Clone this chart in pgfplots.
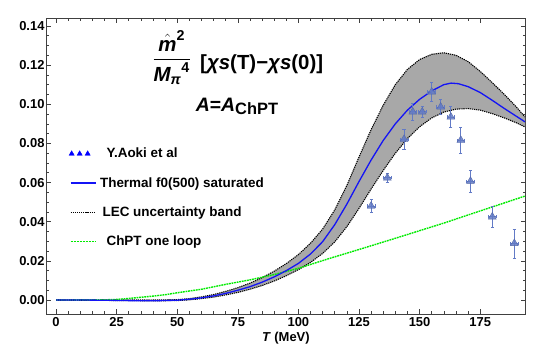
\documentclass[border=0pt]{standalone}
\usepackage{fontspec}
\setmainfont{Liberation Sans}
\usepackage{amsmath}
\usepackage{pgfplots}
\pgfplotsset{compat=1.18}
\usepgfplotslibrary{fillbetween}
\definecolor{datablue}{RGB}{98,122,198}
\definecolor{bandgray}{RGB}{168,168,168}
\definecolor{chptgreen}{RGB}{0,235,0}
\definecolor{curveblue}{RGB}{20,20,245}
\begin{document}
\begin{tikzpicture}
\begin{axis}[
  at={(0,0)}, anchor=south west,
  scale only axis, width=478.3bp, height=295.7bp,
  xmin=-3.85, xmax=193.5, ymin=-0.00714, ymax=0.1439,
  xtick={0,25,50,75,100,125,150,175}, minor x tick num=4,
  ytick={0,0.02,0.04,0.06,0.08,0.1,0.12,0.14}, minor y tick num=3,
  tick align=inside,
  major tick length=4.5bp, minor tick length=2.5bp,
  axis line style={black!75, line width=0.7bp},
  every tick/.style={black!75, line width=0.6bp},
  /pgf/number format/assume math mode=true,
  yticklabel style={/pgf/number format/fixed, /pgf/number format/fixed zerofill, /pgf/number format/precision=2},
  ticklabel style={font=\fontsize{13}{15}\selectfont\bfseries},
  xticklabel style={inner sep=1bp, yshift=-2bp},
  yticklabel style={inner sep=1bp, xshift=-1bp},
  scaled y ticks=false,
  xlabel={\textit{T} (MeV)},
  xlabel style={font=\fontsize{13}{15}\selectfont\bfseries, inner sep=0pt, yshift=-5bp},
  legend style={at={(axis cs:5.3,0.0787)}, anchor=north west, draw=none, fill=none,
    font=\fontsize{13.5}{15}\selectfont\bfseries, row sep=14bp, inner sep=0pt,
    cells={anchor=west}},
]
% band boundaries
\addplot[name path=upper, black, line width=1.1bp, dash pattern=on 1.2bp off 0.9bp, forget plot] coordinates {
(0,0)(40,0)(50,0.0002)(55,0.0007)(60,0.0016)(65,0.0028)(70,0.0044)(75,0.0063)(80,0.0086)(85,0.0114)(90,0.0147)(95,0.0186)(100,0.0232)(105,0.0290)(110,0.0362)(115,0.0460)(120,0.0585)(125,0.0730)(130,0.0870)(135,0.0995)(140,0.1100)(145,0.1178)(150,0.1228)(155,0.1255)(160,0.1263)(165,0.1250)(170,0.1218)(175,0.1168)(180,0.1110)(185,0.1050)(190,0.0985)(193.5,0.0935)};
\addplot[name path=lower, black, line width=1.1bp, dash pattern=on 1.2bp off 0.9bp, forget plot] coordinates {
(0,0)(40,-0.0004)(50,-0.0003)(55,0.0001)(60,0.0007)(65,0.0015)(70,0.0026)(75,0.0039)(80,0.0055)(85,0.0074)(90,0.0097)(95,0.0124)(100,0.0155)(105,0.0192)(110,0.0238)(115,0.0297)(120,0.0375)(125,0.0468)(130,0.0567)(135,0.0662)(140,0.0750)(145,0.0825)(150,0.0885)(155,0.0930)(160,0.0960)(165,0.0975)(170,0.0978)(175,0.0970)(180,0.0952)(185,0.0930)(190,0.0905)(193.5,0.0884)};
\addplot[bandgray, forget plot] fill between[of=upper and lower];
% ChPT one loop
\addplot[chptgreen, line width=1.4bp, dash pattern=on 1.8bp off 0.8bp, forget plot] coordinates {
(0,0)(20,0.0001)(25,0.0003)(30,0.0008)(35,0.0014)(40,0.0020)(45,0.0027)(50,0.0037)(60,0.0055)(70,0.0080)(80,0.0103)(90,0.0130)(100,0.0162)(113,0.0213)(125,0.0258)(142,0.0323)(160,0.0393)(175,0.0455)(193.5,0.0531)};
% thermal f0(500)
\addplot[curveblue, line width=1.3bp, forget plot] coordinates {
(0,0)(10,0)(20,-0.0001)(30,-0.0003)(40,-0.0004)(50,-0.0001)(55,0.0004)(60,0.0011)(65,0.0021)(70,0.0034)(75,0.0050)(80,0.0068)(85,0.0091)(90,0.0118)(95,0.0150)(100,0.0187)(105,0.0235)(110,0.0298)(115,0.0385)(120,0.0490)(125,0.0605)(130,0.0715)(135,0.0815)(140,0.0900)(145,0.0970)(150,0.1025)(155,0.1068)(160,0.1100)(163,0.1108)(166,0.1105)(170,0.1090)(175,0.1060)(180,0.1020)(185,0.0978)(190,0.0938)(193.5,0.0910)};
% lattice data
\addplot[forget plot, only marks, mark=triangle*, mark size=4.5bp,
  mark options={fill=datablue, draw=datablue!85!black, fill opacity=0.85, line width=0.4bp},
  error bars/.cd, y dir=both, y explicit, x dir=both, x explicit,
  error bar style={datablue, line width=0.9bp},
  error mark options={rotate=90, mark size=1.6bp, datablue, line width=0.7bp}]
  coordinates {
(130.0,0.0480) +- (1.6,0.0032)
(136.7,0.0624) +- (1.6,0.0025)
(143.6,0.0821) +- (1.6,0.0050)
(147.2,0.0961) +- (1.6,0.0044)
(151.1,0.0961) +- (1.6,0.0030)
(155.0,0.1063) +- (1.6,0.0048)
(158.7,0.0986) +- (1.6,0.0037)
(162.9,0.0935) +- (1.6,0.0054)
(167.0,0.0816) +- (1.6,0.0068)
(171.0,0.0607) +- (1.6,0.0056)
(180.0,0.0425) +- (1.6,0.0055)
(189.1,0.0289) +- (1.6,0.0074)};
% legend
\addlegendimage{legend image code/.code={\path[fill=blue] plot[mark=triangle*, mark size=3bp, only marks, mark options={fill=blue, draw=blue}] coordinates {(1bp,0bp)(9bp,0bp)(17bp,0bp)};}}
\addlegendentry{\hspace{8bp}Y.Aoki et al}
\addlegendimage{legend image code/.code={\draw[curveblue, line width=1.3bp] (0bp,0bp) -- (25bp,0bp);}}
\addlegendentry{\hspace{1.5bp}Thermal f0(500) saturated}
\addlegendimage{legend image code/.code={\draw[black, line width=1.1bp, dash pattern=on 1.2bp off 0.9bp] (0bp,0bp) -- (25bp,0bp);}}
\addlegendentry{\hspace{4bp}LEC uncertainty band}
\addlegendimage{legend image code/.code={\draw[chptgreen, line width=1.8bp, dash pattern=on 2.2bp off 0.8bp] (0bp,0bp) -- (25bp,0bp);}}
\addlegendentry{\hspace{8bp}ChPT one loop}
% title
\node[inner sep=0pt] at (axis cs:47.74,0.1240)
  {\bfseries\fontsize{20.5}{24}\selectfont $\dfrac{\hat{\textit{m}}^{\text{2}}}{{\textit{M}_{\textit{π}}}^{\text{4}}}$};
\node[anchor=base west, inner sep=0pt] at (axis cs:59.42,0.1180)
  {\bfseries\fontsize{20.5}{24}\selectfont [\textit{χs}(T)−\textit{χs}(0)]};
\node[anchor=base west, inner sep=0pt] at (axis cs:57.6,0.0965)
  {\bfseries\fontsize{19.5}{23}\selectfont \textit{A}=\textit{A}\raisebox{-3.5bp}{\fontsize{16.5}{19}\selectfont ChPT}};
\end{axis}
\pgfresetboundingbox
\path[use as bounding box] (-46.7bp,-37bp) rectangle (498.3bp,314bp);
\end{tikzpicture}
\end{document}
